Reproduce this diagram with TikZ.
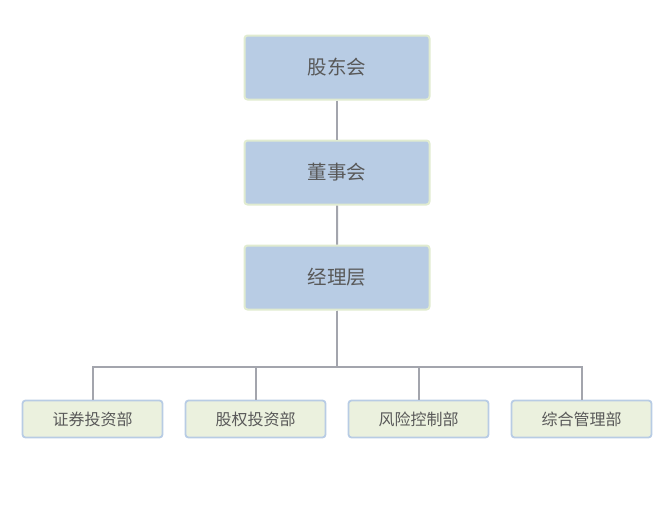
\documentclass[tikz,border=0pt]{standalone}
\usepackage{fontspec}
\setmainfont{Noto Sans CJK SC}
\definecolor{topfill}{HTML}{B8CCE4}
\definecolor{topline}{HTML}{E0EBD0}
\definecolor{deptfill}{HTML}{EBF1DE}
\definecolor{deptline}{HTML}{B8CCE4}
\definecolor{linkgray}{HTML}{A3A5AD}
\definecolor{textgray}{HTML}{595959}
\begin{document}
\begin{tikzpicture}[
x=1pt, y=1pt,
level 1/.style={level distance=105pt},
level 2/.style={level distance=105pt},
level 3/.style={level distance=141.5pt, sibling distance=163pt,
  edge from parent path={(\tikzparentnode.south) -- ++(0,-56pt) -| (\tikzchildnode.north)}},
edge from parent/.style={draw=linkgray, line width=2pt},
topbox/.style={rectangle, rounded corners=3pt, draw=topline, line width=2pt,
  fill=topfill, text=textgray, minimum width=185pt, minimum height=64pt,
  inner sep=0pt, font=\fontsize{19.5}{19.5}\selectfont},
deptbox/.style={rectangle, rounded corners=3pt, draw=deptline, line width=1.8pt,
  fill=deptfill, text=textgray, minimum width=140pt, minimum height=37pt,
  inner sep=0pt, font=\fontsize{16}{16}\selectfont}
]
\useasboundingbox (0,0) rectangle (669,-512);
\node[topbox] (gdh) at (337,-67.5) {股东会}
child {
    node[topbox] (dsh) {董事会}
    child {
        node[topbox] (jlc) {经理层}
        child {node[deptbox] (zqtz) {证券投资部}}
        child {node[deptbox] (gqtz) {股权投资部}}
        child {node[deptbox] (fxkz) {风险控制部}}
        child {node[deptbox] (zhgl) {综合管理部}}
    }
};
\end{tikzpicture}
\end{document}
